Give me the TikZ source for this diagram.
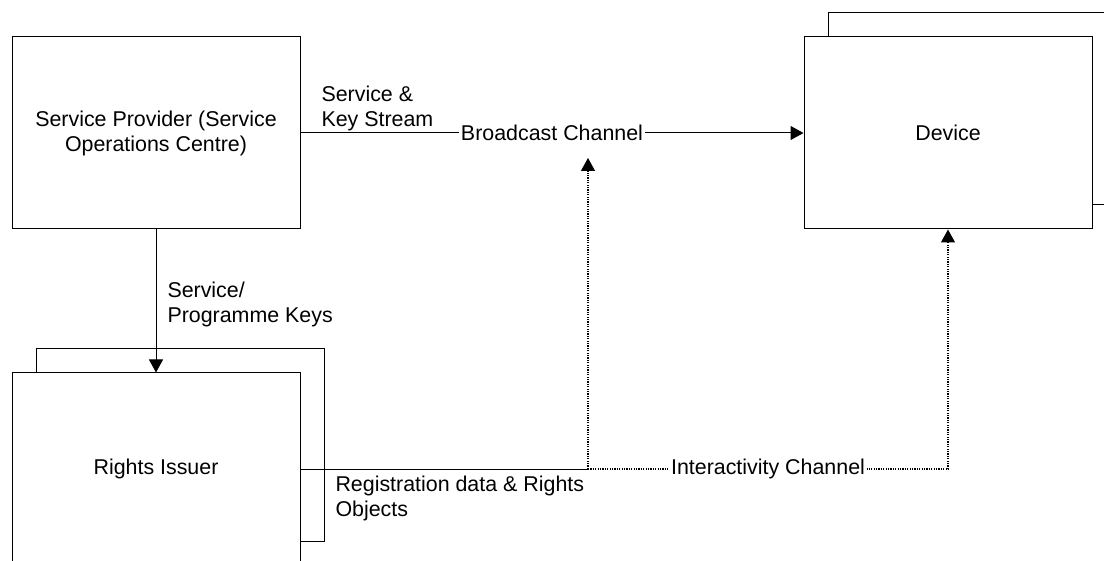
\documentclass[tikz,border=0pt]{standalone}
\usepackage{fontspec}
\setmainfont{Liberation Sans}
\usetikzlibrary{arrows.meta}
\begin{document}
\begin{tikzpicture}[x=1pt,y=-1pt, line width=1pt,
  txt/.style={font=\fontsize{21.4}{25}\selectfont},
  box/.style={draw, fill=white, minimum width=288pt, minimum height=192pt, inner sep=0pt, txt, align=center},
  lbl/.style={txt, align=left, inner sep=0pt, anchor=north west},
  chan/.style={txt, fill=white, inner sep=2pt},
  arr/.style={-{Triangle[length=13pt,width=14pt]}},
  dots/.style={line width=1.3pt, dash pattern=on 1.2pt off 1.2pt}]
\useasboundingbox (0,0) rectangle (1104,561);
\clip (0,0) rectangle (1104,561);
\node[box] (sp) at (156,133) {Service Provider (Service\\Operations Centre)};
\node[box] (devback) at (972,109) {};
\node[box] (dev) at (948,133) {Device};
\node[box] (riback) at (180,445) {};
\node[box] (ri) at (156,469) {Rights Issuer};
\coordinate (j) at (588,469);
\coordinate (bctip) at (588,158);
\coordinate (ic) at (948,469);
\draw[arr] (sp.east) -- node[chan] (bc) {Broadcast Channel} (dev.west);
\draw[arr] (sp.south) -- (ri.north);
\draw (ri.east) -- (j);
\draw[dots,arr] (j) -- (bctip);
\draw[dots,arr] (j) -- node[chan] (ich) {Interactivity Channel} (ic) -- (dev.south);
\node[lbl] (l1) at (321,85) {Service \&\\Key Stream};
\node[lbl] (l2) at (167,281) {Service/\\Programme Keys};
\node[lbl] (l3) at (335,475) {Registration data \& Rights\\Objects};
\end{tikzpicture}
\end{document}
